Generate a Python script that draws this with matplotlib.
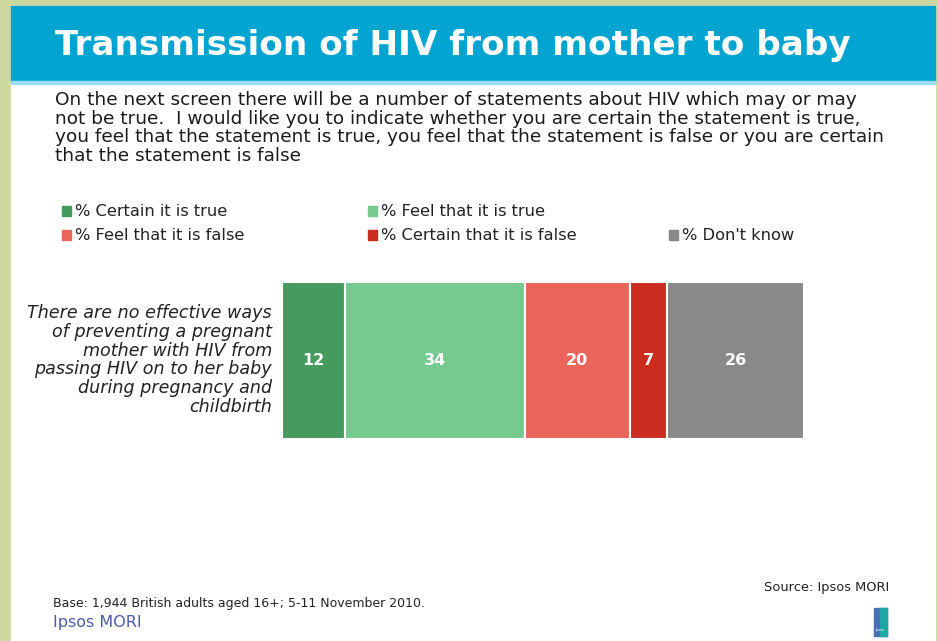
import matplotlib.pyplot as plt
from matplotlib.patches import Rectangle

# Survey result: one statement, five answer shares (%)
statement = ("There are no effective ways\nof preventing a pregnant\nmother with HIV from\n"
             "passing HIV on to her baby\nduring pregnancy and\nchildbirth")
answers = ["% Certain it is true", "% Feel that it is true", "% Feel that it is false",
           "% Certain that it is false", "% Don't know"]
shares = [12, 34, 20, 7, 26]
colors = ["#459b5d", "#77ca8f", "#ea645a", "#cc2b1f", "#898989"]

W, H = 938, 641
plt.rcParams["font.family"] = ["DejaVu Sans"]

fig = plt.figure(figsize=(W / 100, H / 100), dpi=100)
fig.patch.set_facecolor("#ccd89d")

# full-figure canvas in pixel units (y down) for the slide furniture
bg = fig.add_axes([0, 0, 1, 1])
bg.set_xlim(0, W)
bg.set_ylim(H, 0)
bg.axis("off")
bg.add_patch(Rectangle((11, 6), 924, H, color="white", zorder=0))
bg.add_patch(Rectangle((11, 6), 924, 76, color="#00a4d0", zorder=1))
bg.add_patch(Rectangle((11, 81), 924, 3, color="#9fdcef", zorder=1))

bg.text(55, 55, "Transmission of HIV from mother to baby", color="white",
        fontsize=24.7, fontweight="bold", va="baseline", ha="left")

question = ("On the next screen there will be a number of statements about HIV which may or may\n"
            "not be true.  I would like you to indicate whether you are certain the statement is true,\n"
            "you feel that the statement is true, you feel that the statement is false or you are certain\n"
            "that the statement is false")
bg.text(55, 91, question, color="#1a1a1a", fontsize=13.3, va="top", ha="left",
        linespacing=1.05)

# legend: two rows of coloured squares with labels
leg_pos = [(62, 211), (368, 211), (62, 235), (368, 235), (669, 235)]
for (lx, ly), name, c in zip(leg_pos, answers, colors):
    bg.add_patch(Rectangle((lx, ly - 5), 9, 10, color=c))
    bg.text(lx + 13, ly, name, fontsize=11.7, color="#222222", va="center", ha="left")

bg.text(272, 360, statement, fontsize=12.6, style="italic", color="#222222",
        ha="right", va="center", linespacing=1.06)

# footer
bg.text(889, 587, "Source: Ipsos MORI", fontsize=9.4, color="#222222", ha="right", va="center")
bg.text(53, 604, "Base: 1,944 British adults aged 16+; 5-11 November 2010.", fontsize=9.0,
        color="#222222", ha="left", va="center")
bg.text(53, 622, "Ipsos MORI", fontsize=11.5, color="#4a5cae", ha="left", va="center")
bg.add_patch(Rectangle((874, 608), 13, 28, color="#4a6fb5"))
bg.add_patch(Rectangle((880, 608), 7, 28, color="#1fa7a6"))
bg.text(880.5, 630, "Ipsos", fontsize=2.5, color="white", ha="center", va="center")

# stacked bar
bx0, bx1, by0, by1 = 282, 804, 282, 439
ax = fig.add_axes([bx0 / W, 1 - by1 / H, (bx1 - bx0) / W, (by1 - by0) / H])
ax.set_xlim(0, sum(shares))
ax.set_ylim(-0.5, 0.5)
ax.axis("off")
left = 0
for v, c in zip(shares, colors):
    ax.barh(0, v, left=left, height=1, color=c, edgecolor="white", linewidth=1.5)
    ax.text(left + v / 2, 0, str(v), color="white", fontsize=11.5, fontweight="bold",
            ha="center", va="center")
    left += v

fig.savefig("out.png", dpi=100)
